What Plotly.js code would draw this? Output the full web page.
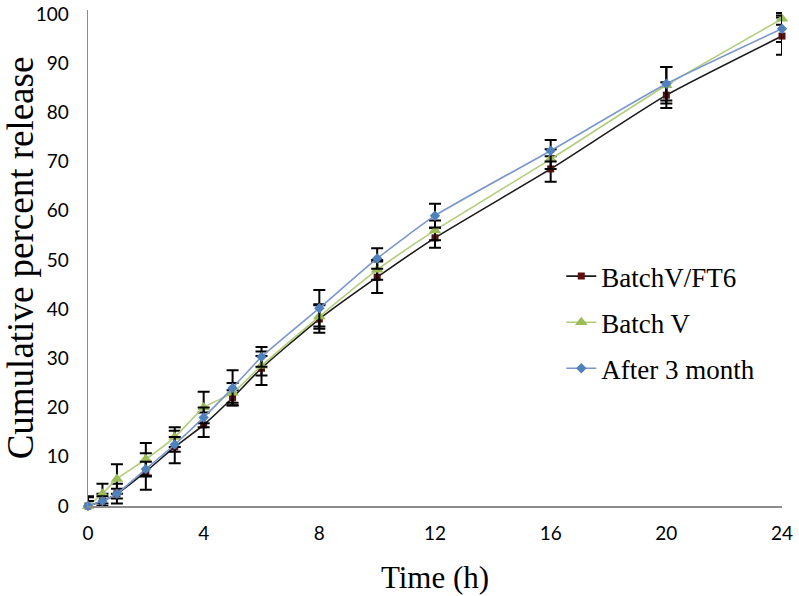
<!DOCTYPE html>
<html>
<head>
<meta charset="utf-8">
<script src="https://cdn.plot.ly/plotly-3.0.1.min.js"></script>
<style>html,body{margin:0;padding:0;background:#fff;}#chart{width:799px;height:596px;}</style>
</head>
<body>
<div id="chart"></div>
<script>
var timeH = [0, 0.5, 1, 2, 3, 4, 5, 6, 8, 10, 12, 16, 20, 24];
var xTicks = [0, 4, 8, 12, 16, 20, 24];

var seriesNames = ["BatchV/FT6", "Batch V", "After 3 month"];

var batchVFT6 = [0, 1, 2.5, 7, 12, 16.5, 22, 28, 38, 46.5, 54.5, 68.5, 83.5, 95.5];
var batchVFT6Err = [2, 1.5, 2, 3.7, 3.3, 2.5, 1.5, 3.4, 2.8, 3.2, 2, 2.6, 2.6, 3.8];

var batchV = [0, 2.5, 5.5, 9.5, 14, 20, 23, 28.5, 38.5, 48, 56, 70.5, 85.5, 99];
var batchVErr = [1.8, 2, 3, 3.3, 2, 3.2, 2, 2, 2.5, 2, 2, 2, 3.7, 1.2];

var after3Month = [0, 1, 2.5, 7.5, 12.5, 18, 24, 30.3, 40.2, 50.3, 59, 72.2, 85.8, 97];
var after3MonthErr = [1, 1, 1, 1.5, 1.5, 2, 3.6, 2, 3.7, 2.1, 2.4, 2.2, 3.4, 2.7];

function mk(name, y, err, lineColor, mColor, symbol, size, grp) {
  return {
    x: timeH, y: y, name: name, type: 'scatter', mode: 'lines+markers',
    legendgroup: grp,
    line: {color: lineColor, width: 1.6, shape: 'spline', smoothing: 0.5},
    marker: {color: mColor, symbol: symbol, size: size},
    error_y: {type: 'data', array: err, visible: true, color: '#000', thickness: 2, width: 6},
    cliponaxis: false
  };
}

var data = [
  mk(seriesNames[0], batchVFT6, batchVFT6Err, '#1a1a1a', '#5a1010', 'square', 7, 'a'),
  mk(seriesNames[1], batchV, batchVErr, '#b3cc7a', '#9bbb59', 'triangle-up', 11, 'b'),
  mk(seriesNames[2], after3Month, after3MonthErr, '#7a97cc', '#4f81bd', 'diamond', 8, 'c')
];

var layout = {
  width: 799, height: 596,
  margin: {l: 88, r: 17, t: 10, b: 90},
  paper_bgcolor: '#fff', plot_bgcolor: '#fff',
  showlegend: true,
  legend: {
    x: 0.682, y: 0.512, xanchor: 'left', yanchor: 'top',
    font: {family: 'Liberation Serif, Times New Roman, serif', size: 27, color: '#000'},
    tracegroupgap: 8, bgcolor: 'rgba(0,0,0,0)'
  },
  xaxis: {
    range: [0, 24], tickvals: xTicks, ticktext: xTicks.map(String),
    showgrid: false, zeroline: false, showline: true, linecolor: '#8c8c8c', linewidth: 1.5,
    ticks: '', ticklabelstandoff: 10,
    tickfont: {family: 'Lato, Carlito, sans-serif', size: 19, color: '#000'},
    title: {text: 'Time (h)', font: {family: 'Liberation Serif, Times New Roman, serif', size: 31, color: '#000'}, standoff: 23}
  },
  yaxis: {
    range: [0, 100.8], tickvals: [0,10,20,30,40,50,60,70,80,90,100],
    showgrid: false, zeroline: false, showline: true, linecolor: '#8c8c8c', linewidth: 1.5,
    ticks: '', ticklabelstandoff: 14,
    tickfont: {family: 'Lato, Carlito, sans-serif', size: 19, color: '#000'},
    title: {text: 'Cumulative percent release', font: {family: 'Liberation Serif, Times New Roman, serif', size: 37, color: '#000'}, standoff: 11}
  }
};

Plotly.newPlot('chart', data, layout, {displayModeBar: false, staticPlot: true});
</script>
</body>
</html>
